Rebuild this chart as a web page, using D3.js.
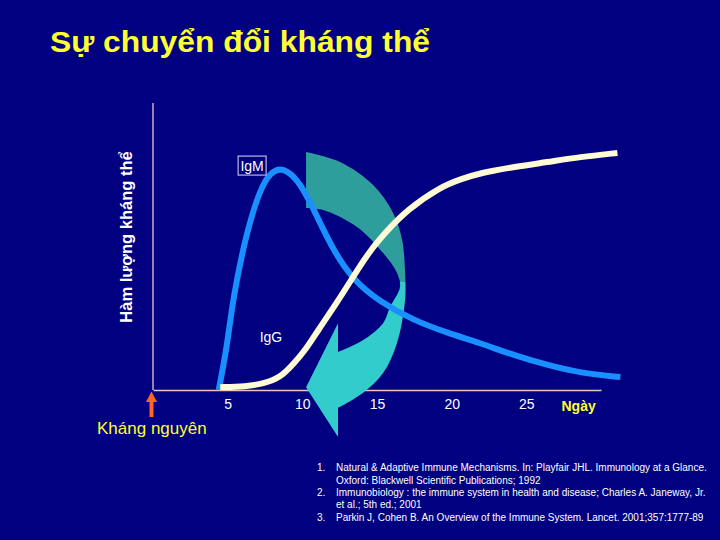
<!DOCTYPE html>
<html>
<head>
<meta charset="utf-8">
<script src="https://cdn.jsdelivr.net/npm/d3@7"></script>
<style>
  html, body { margin: 0; padding: 0; background: #000080; }
  svg { display: block; }
  text { font-family: Arial, "Liberation Sans", sans-serif; }
</style>
</head>
<body>
<svg id="chart" width="720" height="540"></svg>
<script>
// ---------- data ----------
const title = "Sự chuyển đổi kháng thể";
const yLabel = "Hàm lượng kháng thể";
const xUnitLabel = "Ngày";
const antigenLabel = "Kháng nguyên";
const xTicks = [5, 10, 15, 20, 25];

// IgM response (day, relative level)
const igmDays   = [4.4, 4.96, 5.36, 6.3, 7.16, 7.84, 8.7, 9.85, 11.0, 12.06, 13.4, 15.2, 17.4, 19.7, 21.9, 24.1, 26.4, 28.6, 31.3];
const igmLevels = [0,   15,   32.4, 55.7, 69.7, 75.8, 77.8, 72.6, 60.3, 48.8, 38.3, 30.7, 24.4, 19.9, 16.4, 12.2, 8.7, 5.9, 4.5];

// IgG response (day, relative level)
const iggDays   = [4.5, 6.2, 7.4, 8.5, 9.4, 10.3, 11.0, 12.3, 13.4, 14.5, 15.7, 17.0, 19.2, 20.7, 21.9, 24.1, 26.4, 28.6, 31.1];
const iggLevels = [1,   1.2, 2.2, 4.2, 9.0, 14.6, 20.4, 30.3, 39.4, 48.4, 55.7, 62.7, 70.7, 73.6, 75.6, 77.7, 79.4, 81.2, 82.6];

// Curved "switch" arrow outline in (day, level) units
const arrowOuter = [[10.25,82.9],[12.53,79.4],[14.74,71.4],[16.08,61.7],[16.68,52.3],[16.88,40.8],[16.88,31.4],[16.34,16.4],[15.41,5.9],[14.07,-1.0],[12.39,-6.3]];
const arrowHead  = [[12.39,-16.4],[10.25,1.0],[12.39,23.3],[12.39,13.2]];
const arrowInner = [[12.39,13.2],[14.07,17.4],[15.41,23.3],[15.87,28.9],[16.54,35.9],[16.34,40.8],[15.41,47.7],[13.66,56.8],[11.39,62.7],[10.25,63.4]];
const arrowSplitLevel = 37.6;

const references = [
  ["1.", "Natural & Adaptive Immune Mechanisms. In: Playfair JHL. Immunology at a Glance."],
  ["",   "Oxford: Blackwell Scientific Publications; 1992"],
  ["2.", "Immunobiology : the immune system in health and disease; Charles A. Janeway, Jr."],
  ["",   "et al.; 5th ed.; 2001"],
  ["3.", "Parkin J, Cohen B. An Overview of the Immune System. Lancet. 2001;357:1777-89"]
];

// ---------- drawing ----------
const svg = d3.select("#chart");
svg.append("rect").attr("width", 720).attr("height", 540).attr("fill", "#000080");

const x = d3.scaleLinear().domain([0, 30]).range([153, 601]);
const y = d3.scaleLinear().domain([0, 100]).range([390, 103]);

// title
svg.append("text").attr("x", 50).attr("y", 52)
  .attr("fill", "#ffff33").attr("font-size", 30).attr("font-weight", "bold")
  .attr("textLength", 380).attr("lengthAdjust", "spacingAndGlyphs").text(title);

// axes lines
const axisColor = "#f0c4c4";
svg.append("line").attr("x1", x(0)).attr("x2", x(0)).attr("y1", y(100)).attr("y2", y(0))
  .attr("stroke", axisColor).attr("stroke-width", 1.3);
const xAxis = d3.axisBottom(x).tickValues(xTicks).tickSize(0).tickPadding(9);
const gx = svg.append("g").attr("transform", `translate(0,${y(0)})`).call(xAxis);
gx.select(".domain").attr("stroke", axisColor).attr("stroke-width", 1.3);
gx.selectAll(".tick text").attr("fill", "#ffffff").attr("font-size", 14)
  .attr("font-family", "Arial, 'Liberation Sans', sans-serif");

svg.append("text").attr("x", x(28.5)).attr("y", 411).attr("text-anchor", "middle")
  .attr("fill", "#ffff33").attr("font-size", 14).attr("font-weight", "bold").text(xUnitLabel);

// y label
svg.append("text").attr("transform", `translate(132,237) rotate(-90)`)
  .attr("text-anchor", "middle").attr("fill", "#ffffff").attr("font-size", 16.5)
  .attr("font-weight", "bold").text(yLabel);

// antigen arrow
const ax0 = x(0) - 1.5;
svg.append("rect").attr("x", ax0 - 2).attr("y", 401).attr("width", 4).attr("height", 16).attr("fill", "#ff6622");
svg.append("path").attr("d", `M${ax0},391.5 L${ax0-5.5},402 L${ax0+5.5},402 Z`).attr("fill", "#ff6622");
svg.append("text").attr("x", 97).attr("y", 434).attr("fill", "#ffff33").attr("font-size", 17).text(antigenLabel);

// curved arrow
const smooth = d3.line().x(d => x(d[0])).y(d => y(d[1])).curve(d3.curveCatmullRom.alpha(0.5));
const arrowD = smooth(arrowOuter) + arrowHead.map(d => `L${x(d[0])},${y(d[1])}`).join("") +
  smooth(arrowInner).replace(/^M/, "L") + "Z";
const defs = svg.append("defs");
defs.append("clipPath").attr("id", "clipTop").append("rect")
  .attr("x", 0).attr("y", 0).attr("width", 720).attr("height", y(arrowSplitLevel));
defs.append("clipPath").attr("id", "clipBot").append("rect")
  .attr("x", 0).attr("y", y(arrowSplitLevel)).attr("width", 720).attr("height", 540);
svg.append("path").attr("d", arrowD).attr("fill", "#2e9e9c").attr("clip-path", "url(#clipTop)");
svg.append("path").attr("d", arrowD).attr("fill", "#33cccc").attr("clip-path", "url(#clipBot)");

// curves
const line = d3.line().x(d => x(d[0])).y(d => y(d[1])).curve(d3.curveBasis);
svg.append("path").attr("d", line(igmDays.map((d, i) => [d, igmLevels[i]])))
  .attr("fill", "none").attr("stroke", "#1a90ff").attr("stroke-width", 6);
svg.append("path").attr("d", line(iggDays.map((d, i) => [d, iggLevels[i]])))
  .attr("fill", "none").attr("stroke", "#fffbd6").attr("stroke-width", 6);

// series labels
const igmG = svg.append("g");
igmG.append("rect").attr("x", x(5.7)).attr("y", y(81.5)).attr("width", 28).attr("height", 19)
  .attr("fill", "none").attr("stroke", "#b8b8e0").attr("stroke-width", 1.2);
igmG.append("text").attr("x", x(5.7) + 14).attr("y", y(81.5) + 15).attr("text-anchor", "middle")
  .attr("fill", "#ffffff").attr("font-size", 14).text("IgM");
svg.append("text").attr("x", x(7.9)).attr("y", 342).attr("text-anchor", "middle")
  .attr("fill", "#ffffff").attr("font-size", 14).text("IgG");

// references
const refY = [471, 484, 496, 508, 521];
references.forEach((r, i) => {
  if (r[0]) svg.append("text").attr("x", 317).attr("y", refY[i]).attr("fill", "#ffffff").attr("font-size", 10).text(r[0]);
  svg.append("text").attr("x", 336).attr("y", refY[i]).attr("fill", "#ffffff").attr("font-size", 10).text(r[1]);
});
</script>
</body>
</html>
